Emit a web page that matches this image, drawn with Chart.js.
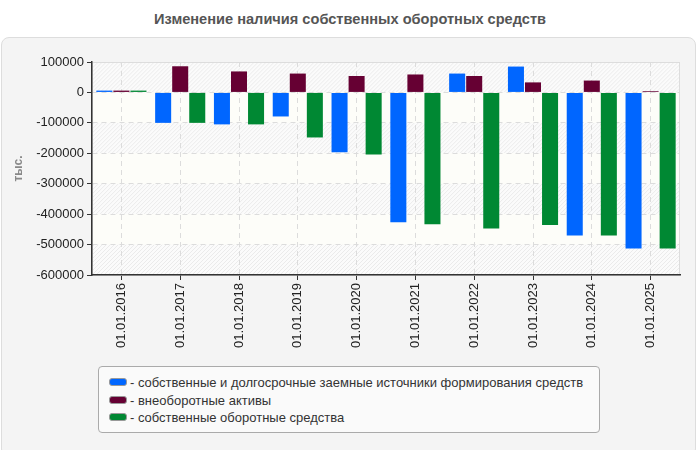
<!DOCTYPE html>
<html>
<head>
<meta charset="utf-8">
<script src="https://cdn.jsdelivr.net/npm/chart.js@4/dist/chart.umd.min.js"></script>
<style>
  html, body { margin: 0; padding: 0; background: #fff; width: 700px; height: 450px; overflow: hidden; font-family: "Liberation Sans", Arial, sans-serif; }
  #title { position: absolute; left: 0; top: 11px; width: 700px; text-align: center; font-size: 14.6px; font-weight: bold; color: #555; font-family: "Liberation Sans Narrow", "Liberation Sans", sans-serif; }
  #panel { position: absolute; left: 1px; top: 37px; width: 695px; height: 420px; background: #f4f4f4; border: 1px solid #ddd; border-radius: 8px; box-sizing: border-box; }
  #wrap { position: absolute; left: 0; top: 0; width: 700px; height: 450px; }
  #legend { position: absolute; left: 98px; top: 366px; width: 502px; height: 67px; box-sizing: border-box; border: 1px solid #aaa; border-radius: 4px; background: #fafafa; padding: 7px 0 0 10px; font-size: 13px; color: #333; }
  #legend div { height: 17.5px; line-height: 17px; white-space: nowrap; }
  #legend span.sw { display: inline-block; width: 16px; height: 6px; border-radius: 3px; margin-right: 3px; vertical-align: 1px; border: 1px solid #999; }
</style>
</head>
<body>
<div id="title">Изменение наличия собственных оборотных средств</div>
<div id="panel"></div>
<div id="wrap"><canvas id="c" width="700" height="450"></canvas></div>
<div id="legend"></div>
<script>
var dates = ["01.01.2016", "01.01.2017", "01.01.2018", "01.01.2019", "01.01.2020",
             "01.01.2021", "01.01.2022", "01.01.2023", "01.01.2024", "01.01.2025"];
var ownAndLongTerm = [6000, -100000, -105000, -79000, -197000, -427000, 62000, 85000, -470000, -513000];
var nonCurrent = [6000, 86000, 69000, 62000, 54000, 59000, 54000, 33000, 39000, 4000];
var ownWorking = [6000, -100000, -105000, -148000, -204000, -433000, -447000, -436000, -470000, -513000];
var seriesNames = ["собственные и долгосрочные заемные источники формирования средств",
                   "внеоборотные активы", "собственные оборотные средства"];
var seriesColors = ["#0066ff", "#660033", "#008833"];
var yTicks = [100000, 0, -100000, -200000, -300000, -400000, -500000, -600000];

// фон области построения: чередующиеся полосы со штриховкой
var bandsPlugin = {
  id: "bands",
  beforeDraw: function (chart) {
    var ctx = chart.ctx, a = chart.chartArea, y = chart.scales.y;
    ctx.save();
    ctx.fillStyle = "#fdfdf9";
    ctx.fillRect(a.left, a.top, a.right - a.left, a.bottom - a.top);
    for (var i = 0; i < yTicks.length - 1; i += 2) {
      var t = y.getPixelForValue(yTicks[i]), b = y.getPixelForValue(yTicks[i + 1]);
      ctx.save();
      ctx.beginPath();
      ctx.rect(a.left, t, a.right - a.left, b - t);
      ctx.clip();
      ctx.fillStyle = "#fbfbfb";
      ctx.fillRect(a.left, t, a.right - a.left, b - t);
      ctx.strokeStyle = "#ebebeb";
      ctx.lineWidth = 1;
      ctx.beginPath();
      for (var x = a.left - 40; x < a.right + 40; x += 4) {
        ctx.moveTo(x, b);
        ctx.lineTo(x + (b - t), t);
      }
      ctx.stroke();
      ctx.restore();
    }
    ctx.strokeStyle = "#ddd";
    ctx.strokeRect(a.left + 0.5, a.top + 0.5, a.right - a.left - 1, a.bottom - a.top);
    ctx.restore();
  }
};

var datasets = [ownAndLongTerm, nonCurrent, ownWorking].map(function (d, i) {
  return { label: seriesNames[i], data: d, backgroundColor: seriesColors[i], borderWidth: 0,
           barPercentage: 0.94, categoryPercentage: 0.87 };
});

Chart.defaults.font.family = "'Liberation Sans', Arial, sans-serif";
new Chart(document.getElementById("c"), {
  type: "bar",
  data: { labels: dates, datasets: datasets },
  plugins: [bandsPlugin],
  options: {
    responsive: false,
    animation: false,
    layout: { padding: { left: 0, right: 20, top: 62, bottom: 0 } },
    plugins: { legend: { display: false }, title: { display: false }, tooltip: { enabled: false } },
    scales: {
      x: {
        offset: true,
        grid: { color: "#dcdcdc", tickLength: 5, tickColor: "#333", offset: false },
        border: { color: "#333", width: 1.5, dash: [5, 4] },
        ticks: { color: "#222", font: { size: 13 }, minRotation: 90, maxRotation: 90, padding: 3, autoSkip: false },
        afterFit: function (s) { s.height = 175; }
      },
      y: {
        min: -600000, max: 100000,
        afterBuildTicks: function (s) { s.ticks = yTicks.slice().reverse().map(function (v) { return { value: v }; }); },
        grid: { color: "#dcdcdc", tickLength: 5, tickColor: "#333" },
        border: { color: "#333", width: 1.5, dash: [5, 4] },
        ticks: { color: "#222", font: { size: 13 }, padding: 3, callback: function (v) { return String(v); } },
        title: { display: true, text: "тыс.", color: "#888", font: { size: 12, weight: "bold" }, padding: { top: 11, bottom: 0 } },
        afterFit: function (s) { s.width = 92; }
      }
    }
  }
});

// легенда
var lg = document.getElementById("legend");
seriesNames.forEach(function (n, i) {
  var row = document.createElement("div");
  row.innerHTML = '<span class="sw" style="background:' + seriesColors[i] + '"></span>- ' + n;
  lg.appendChild(row);
});
</script>
</body>
</html>
